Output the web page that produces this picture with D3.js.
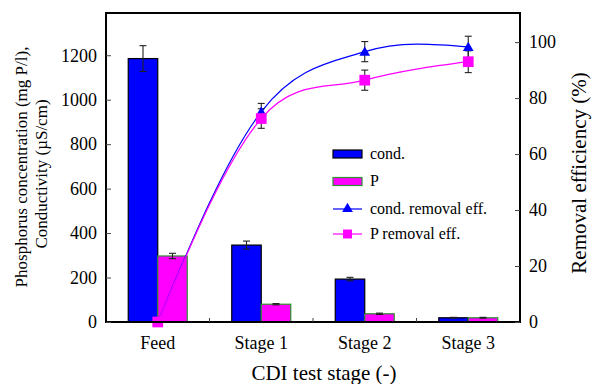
<!DOCTYPE html>
<html><head><meta charset="utf-8">
<script src="https://cdn.jsdelivr.net/npm/d3@7"></script>
<style>body{margin:0;background:#fff}svg{display:block}</style>
</head><body><svg id="c" width="592" height="384"></svg>
<script>
const categories = ["Feed", "Stage 1", "Stage 2", "Stage 3"];
const condValues = [1185, 346, 193, 19];
const condErrors = [58, 18, 8, 2];
const pValues = [297, 80, 37, 19];
const pErrors = [12, 3, 3, 2];
const condEff = [0, 75.1, 96.6, 98.3];
const condEffErr = [0, 3, 3.6, 3.8];
const pEff = [0, 72.7, 86.4, 93];
const pEffErr = [0, 3.5, 3.6, 3.9];
const leftTicks = [0, 200, 400, 600, 800, 1000, 1200];
const rightTicks = [0, 20, 40, 60, 80, 100];
const legendLabels = ["cond.", "P", "cond. removal eff.", "P removal eff."];

const FONT = "Liberation Serif, Times New Roman, serif";
const svg = d3.select("#c");
const L = 106, R = 520, T = 13, B = 322;
const x = d3.scaleBand().domain(categories).range([L, R]).padding(0);
const xs = d3.scaleBand().domain(["cond", "P"]).range([0, x.bandwidth()]).paddingInner(0).paddingOuter(0.754);
const y = d3.scaleLinear().domain([0, 1390]).range([B, T]);
const y2 = d3.scaleLinear().domain([0, 110.4]).range([B, T]);
const cx = c => x(c) + x.bandwidth() / 2;

// bars
const series = [
  {key: "cond", vals: condValues, errs: condErrors, fill: "#0000ff", stroke: "#000"},
  {key: "P", vals: pValues, errs: pErrors, fill: "#ff00ff", stroke: "#2f8f2f"}
];
series.forEach(s => {
  const g = svg.append("g");
  g.selectAll("rect").data(categories).join("rect")
    .attr("x", c => x(c) + xs(s.key))
    .attr("y", (c, i) => y(s.vals[i]))
    .attr("width", xs.bandwidth())
    .attr("height", (c, i) => B - y(s.vals[i]))
    .attr("fill", s.fill).attr("stroke", s.stroke).attr("stroke-width", 1.2);
  categories.forEach((c, i) => {
    const xc = x(c) + xs(s.key) + xs.bandwidth() / 2;
    const e = svg.append("g").attr("stroke", "#222").attr("stroke-width", 1.1);
    e.append("line").attr("x1", xc).attr("x2", xc).attr("y1", y(s.vals[i] - s.errs[i])).attr("y2", y(s.vals[i] + s.errs[i]));
    [s.vals[i] - s.errs[i], s.vals[i] + s.errs[i]].forEach(v =>
      e.append("line").attr("x1", xc - 3.5).attr("x2", xc + 3.5).attr("y1", y(v)).attr("y2", y(v)));
  });
});

// smooth curve path (Hermite, Catmull-Rom interior, natural ends) through scaled points
function smoothPath(vals) {
  const pts = categories.map((c, i) => [cx(c), y2(vals[i])]);
  const n = pts.length;
  const m = pts.map((p, i) => {
    if (i > 0 && i < n - 1) return [(pts[i + 1][0] - pts[i - 1][0]) / 2, (pts[i + 1][1] - pts[i - 1][1]) / 2];
    return null;
  });
  m[0] = [ (3 * (pts[1][0] - pts[0][0]) - m[1][0]) / 2, (3 * (pts[1][1] - pts[0][1]) - m[1][1]) / 2 ];
  m[n - 1] = [ (3 * (pts[n - 1][0] - pts[n - 2][0]) - m[n - 2][0]) / 2, (3 * (pts[n - 1][1] - pts[n - 2][1]) - m[n - 2][1]) / 2 ];
  const p = d3.path();
  p.moveTo(pts[0][0], pts[0][1]);
  for (let i = 0; i < n - 1; i++) {
    p.bezierCurveTo(pts[i][0] + m[i][0] / 3, pts[i][1] + m[i][1] / 3,
      pts[i + 1][0] - m[i + 1][0] / 3, pts[i + 1][1] - m[i + 1][1] / 3,
      pts[i + 1][0], pts[i + 1][1]);
  }
  return p.toString();
}
svg.append("path").attr("d", smoothPath(condEff)).attr("fill", "none").attr("stroke", "#0000ff").attr("stroke-width", 1.2);
svg.append("path").attr("d", smoothPath(pEff)).attr("fill", "none").attr("stroke", "#ff00ff").attr("stroke-width", 1.2);

// efficiency error bars
[[condEff, condEffErr], [pEff, pEffErr]].forEach(([v, er]) => {
  categories.forEach((c, i) => {
    if (!er[i]) return;
    const e = svg.append("g").attr("stroke", "#222").attr("stroke-width", 1.1);
    const xc = cx(c);
    e.append("line").attr("x1", xc).attr("x2", xc).attr("y1", y2(v[i] - er[i])).attr("y2", y2(v[i] + er[i]));
    [v[i] - er[i], v[i] + er[i]].forEach(w =>
      e.append("line").attr("x1", xc - 3.5).attr("x2", xc + 3.5).attr("y1", y2(w)).attr("y2", y2(w)));
  });
});

const tri = d3.symbol().type(d3.symbolTriangle).size(50);
const sq = d3.symbol().type(d3.symbolSquare).size(115);
svg.append("g").selectAll("path").data(categories).join("path")
  .attr("d", tri).attr("transform", (c, i) => `translate(${cx(c)},${y2(condEff[i]) + 1})`).attr("fill", "#0000ff");
svg.append("g").selectAll("path").data(categories).join("path")
  .attr("d", sq).attr("transform", (c, i) => `translate(${cx(c)},${y2(pEff[i])})`).attr("fill", "#ff00ff");

// frame & axes
svg.append("rect").attr("x", L).attr("y", T).attr("width", R - L).attr("height", B - T)
  .attr("fill", "none").attr("stroke", "#000").attr("stroke-width", 2);

const fmt = d3.format("d");
const ga = svg.append("g").attr("transform", `translate(${L},0)`)
  .call(d3.axisRight(y).tickValues(leftTicks).tickSize(5).tickFormat(""));
ga.select(".domain").remove();
ga.selectAll("line").attr("stroke", "#444");
svg.append("g").selectAll("text").data(leftTicks).join("text")
  .attr("x", L - 9).attr("y", d => y(d)).attr("dy", "0.35em").attr("text-anchor", "end")
  .attr("font-size", 18).text(fmt);

const gr = svg.append("g").attr("transform", `translate(${R},0)`)
  .call(d3.axisLeft(y2).tickValues(rightTicks).tickSize(5).tickFormat(""));
gr.select(".domain").remove();
gr.selectAll("line").attr("stroke", "#444");
svg.append("g").selectAll("text").data(rightTicks).join("text")
  .attr("x", R + 9).attr("y", d => y2(d)).attr("dy", "0.35em").attr("text-anchor", "start")
  .attr("font-size", 18).text(fmt);

// bottom ticks at band boundaries
svg.append("g").selectAll("line").data(categories.slice(1)).join("line")
  .attr("x1", c => x(c)).attr("x2", c => x(c)).attr("y1", B).attr("y2", B - 4)
  .attr("stroke", "#444");
svg.append("g").selectAll("text").data(categories).join("text")
  .attr("x", c => cx(c)).attr("y", 349).attr("text-anchor", "middle").attr("font-size", 18).text(d => d);

// titles
svg.append("text").attr("x", 324).attr("y", 380).attr("text-anchor", "middle").attr("font-size", 21).text("CDI test stage (-)");
svg.append("text").attr("transform", "translate(27,167) rotate(-90)").attr("text-anchor", "middle").attr("font-size", 17)
  .text("Phosphorus concentration (mg P/l),");
svg.append("text").attr("transform", "translate(47,174) rotate(-90)").attr("text-anchor", "middle").attr("font-size", 17)
  .text("Conductivity (µS/cm)");
svg.append("text").attr("transform", "translate(586,173) rotate(-90)").attr("text-anchor", "middle").attr("font-size", 21)
  .text("Removal efficiency (%)");

// legend
const lg = svg.append("g");
const lx = 333, lw = 29, tx = 370;
const rowY = [154, 181.5, 209, 234];
lg.append("rect").attr("x", lx).attr("y", rowY[0] - 4).attr("width", lw).attr("height", 8).attr("fill", "#0000ff").attr("stroke", "#000").attr("stroke-width", 1.2);
lg.append("rect").attr("x", lx).attr("y", rowY[1] - 4).attr("width", lw).attr("height", 8).attr("fill", "#ff00ff").attr("stroke", "#2f8f2f").attr("stroke-width", 1.2);
lg.append("line").attr("x1", lx).attr("x2", lx + lw).attr("y1", rowY[2]).attr("y2", rowY[2]).attr("stroke", "#0000ff").attr("stroke-width", 1.2);
lg.append("path").attr("d", tri).attr("transform", `translate(${lx + lw / 2},${rowY[2]})`).attr("fill", "#0000ff");
lg.append("line").attr("x1", lx).attr("x2", lx + lw).attr("y1", rowY[3]).attr("y2", rowY[3]).attr("stroke", "#ff00ff").attr("stroke-width", 1.2);
lg.append("path").attr("d", d3.symbol().type(d3.symbolSquare).size(80)).attr("transform", `translate(${lx + lw / 2},${rowY[3]})`).attr("fill", "#ff00ff");
lg.selectAll("text").data(legendLabels).join("text")
  .attr("x", tx).attr("y", (d, i) => rowY[i]).attr("dy", "0.3em").attr("font-size", 16).text(d => d);

svg.selectAll("text").attr("font-family", FONT).attr("fill", "#000");
</script></body></html>
